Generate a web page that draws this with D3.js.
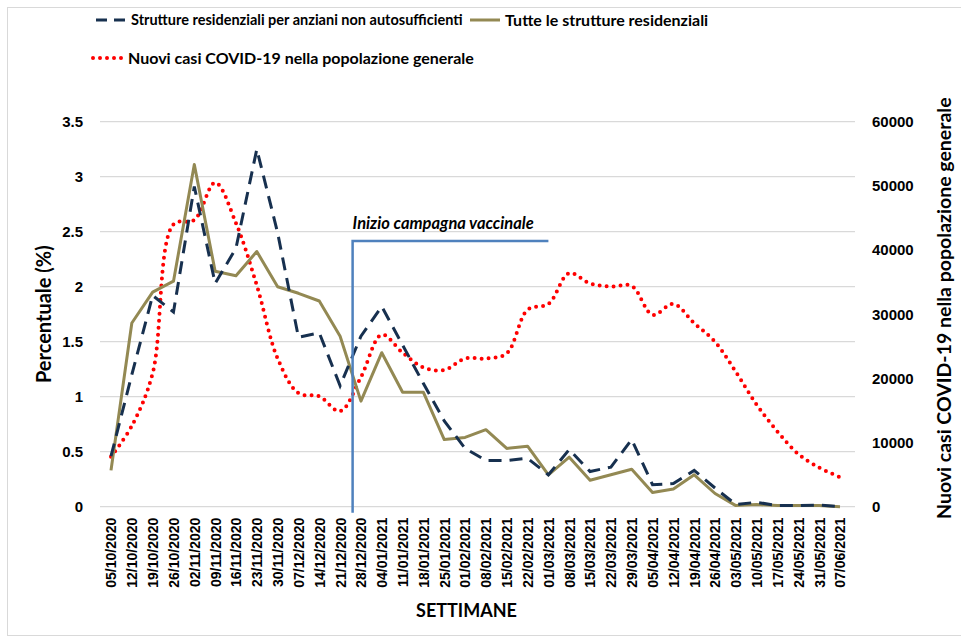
<!DOCTYPE html>
<html>
<head>
<meta charset="utf-8">
<script src="https://cdn.jsdelivr.net/npm/d3@7"></script>
<style>
  body { margin: 0; background: #fff; }
  svg { display: block; font-family: Lato, "Open Sans", sans-serif; }
  .tick text { font-weight: bold; fill: #000; }
</style>
</head>
<body>
<script>
// settimane (asse x)
const settimane = ['05/10/2020', '12/10/2020', '19/10/2020', '26/10/2020', '02/11/2020', '09/11/2020',
  '16/11/2020', '23/11/2020', '30/11/2020', '07/12/2020', '14/12/2020', '21/12/2020', '28/12/2020',
  '04/01/2021', '11/01/2021', '18/01/2021', '25/01/2021', '01/02/2021', '08/02/2021', '15/02/2021',
  '22/02/2021', '01/03/2021', '08/03/2021', '15/03/2021', '22/03/2021', '29/03/2021', '05/04/2021',
  '12/04/2021', '19/04/2021', '26/04/2021', '03/05/2021', '10/05/2021', '17/05/2021', '24/05/2021',
  '31/05/2021', '07/06/2021']

// percentuale - strutture per anziani non autosufficienti
const rsaAnziani = [0.46, 1.2, 1.92, 1.77, 2.91, 2.03, 2.35, 3.25, 2.49, 1.54, 1.58, 1.1, 1.55,
  1.82, 1.47, 1.12, 0.78, 0.53, 0.42, 0.42, 0.44, 0.29, 0.52, 0.32, 0.36, 0.61, 0.2, 0.21,
  0.33, 0.17, 0.02, 0.04, 0.01, 0.01, 0.015, 0.0]

// percentuale - tutte le strutture residenziali
const tutteStrutture = [0.33, 1.67, 1.95, 2.05, 3.11, 2.14, 2.1, 2.32, 2.0, 1.94, 1.87, 1.55, 0.96,
  1.4, 1.04, 1.04, 0.61, 0.63, 0.7, 0.53, 0.55, 0.29, 0.45, 0.24, 0.29, 0.34, 0.13, 0.16,
  0.29, 0.12, 0.01, 0.02, 0.01, 0.01, 0.01, 0.0]

// nuovi casi nella popolazione generale
const nuoviCasi = [7800, 12600, 20800, 44000, 44700, 50500, 44200, 34500, 23100, 17700, 17200,
  14900, 20200, 26800, 24000, 21700, 21300, 23100, 23100, 23900, 30700, 31600, 36400, 34800,
  34300, 34400, 29900, 31600, 28600, 25700, 21000, 15900, 11700, 8200, 6100, 4600]

const ticksSx = [0, 0.5, 1, 1.5, 2, 2.5, 3, 3.5]
const ticksDx = [0, 10000, 20000, 30000, 40000, 50000, 60000]

const W = 961, H = 638
const margin = { top: 121.7, left: 100, right: 106, bottom: 131.3 }
const width = W - margin.left - margin.right
const height = H - margin.top - margin.bottom

const svg = d3.select('body').append('svg')
    .attr('width', W)
    .attr('height', H)

// cornice
svg.append('rect')
    .attr('x', 7.5).attr('y', 7.5)
    .attr('width', W + 10).attr('height', 628)
    .attr('fill', 'none')
    .attr('stroke', '#d9d9d9')

const g = svg.append('g')
    .attr('transform', `translate(${margin.left},${margin.top})`)

const x = d3.scalePoint()
    .domain(settimane)
    .range([11, 740])

const ySx = d3.scaleLinear().domain([0, 3.5]).range([height, 0])
const yDx = d3.scaleLinear().domain([0, 60000]).range([height, 0])

// griglia
g.append('g').selectAll('line')
    .data(ticksSx)
    .enter().append('line')
    .attr('x1', 0).attr('x2', width)
    .attr('y1', d => ySx(d)).attr('y2', d => ySx(d))
    .attr('stroke', '#d9d9d9')
    .attr('stroke-width', 1.3)

// assi
const axSx = g.append('g')
    .call(d3.axisLeft(ySx).tickValues(ticksSx).tickSize(0).tickPadding(17).tickFormat(d3.format('')))
axSx.select('.domain').remove()
axSx.selectAll('text').attr('font-size', 15)

const axDx = g.append('g')
    .attr('transform', `translate(${width},0)`)
    .call(d3.axisRight(yDx).tickValues(ticksDx).tickSize(0).tickPadding(17).tickFormat(d3.format('')))
axDx.select('.domain').remove()
axDx.selectAll('text').attr('font-size', 15)

const axX = g.append('g')
    .attr('transform', `translate(0,${height})`)
    .call(d3.axisBottom(x).tickSize(0).tickPadding(0))
axX.select('.domain').remove()
axX.selectAll('text')
    .attr('font-size', 14)
    .attr('transform', 'rotate(-90)')
    .attr('text-anchor', 'end')
    .attr('dy', '0.35em')
    .attr('x', -11)
    .attr('y', 0)

// linee
const line = (arr, yScale) => d3.line()
    .x((d, i) => x(settimane[i]))
    .y(d => yScale(d))(arr)

g.append('path')
    .attr('d', d3.line().x((d, i) => x(settimane[i])).y(d => yDx(d)).curve(d3.curveCatmullRom)(nuoviCasi))
    .attr('fill', 'none')
    .attr('stroke', '#ff0000')
    .attr('stroke-width', 4)
    .attr('stroke-linecap', 'round')
    .attr('stroke-dasharray', '0 7')

g.append('path')
    .attr('d', line(tutteStrutture, ySx))
    .attr('fill', 'none')
    .attr('stroke', '#938953')
    .attr('stroke-width', 3)
    .attr('stroke-linejoin', 'round')

g.append('path')
    .attr('d', line(rsaAnziani, ySx))
    .attr('fill', 'none')
    .attr('stroke', '#17304f')
    .attr('stroke-width', 3)
    .attr('stroke-dasharray', '13 8')

// inizio campagna vaccinale
const xVacc = x('21/12/2020') + 0.6 * x.step()
const yVacc = ySx(2.415)
g.append('path')
    .attr('d', `M${xVacc},${height + 6}V${yVacc}H${x('01/03/2021')}`)
    .attr('fill', 'none')
    .attr('stroke', '#4f81bd')
    .attr('stroke-width', 2.5)
g.append('text')
    .attr('x', xVacc)
    .attr('y', yVacc - 12)
    .attr('font-size', 16.5)
    .attr('font-weight', 'bold')
    .attr('font-style', 'italic')
    .text('Inizio campagna vaccinale')

// titoli assi
svg.append('text')
    .attr('transform', `translate(51,${margin.top + height / 2}) rotate(-90)`)
    .attr('text-anchor', 'middle')
    .attr('font-size', 20)
    .attr('font-weight', 'bold')
    .text('Percentuale (%)')

svg.append('text')
    .attr('transform', `translate(951,${margin.top + height / 2 - 6}) rotate(-90)`)
    .attr('text-anchor', 'middle')
    .attr('font-size', 19.5)
    .attr('font-weight', 'bold')
    .text('Nuovi casi COVID-19 nella popolazione generale')

svg.append('text')
    .attr('x', margin.left + width / 2 - 11)
    .attr('y', 617)
    .attr('text-anchor', 'middle')
    .attr('font-size', 18)
    .attr('font-weight', 'bold')
    .text('SETTIMANE')

// legenda
const legenda = [
  { nome: 'Strutture residenziali per anziani non autosufficienti', colore: '#17304f', dash: '11 7', cap: 'butt', w: 3, x: 96, y: 20, fs: 14.5 },
  { nome: 'Tutte le strutture residenziali', colore: '#938953', dash: null, cap: 'butt', w: 3, x: 470, y: 20, fs: 16 },
  { nome: 'Nuovi casi COVID-19 nella popolazione generale', colore: '#ff0000', dash: '0 7', cap: 'round', w: 4, x: 93, y: 58, fs: 16 }
]
const leg = svg.append('g').selectAll('g')
    .data(legenda)
    .enter().append('g')
    .attr('transform', d => `translate(${d.x},${d.y})`)
leg.append('line')
    .attr('x1', 0).attr('x2', 30)
    .attr('stroke', d => d.colore)
    .attr('stroke-width', d => d.w)
    .attr('stroke-dasharray', d => d.dash)
    .attr('stroke-linecap', d => d.cap)
leg.append('text')
    .attr('x', 35)
    .attr('dy', '0.35em')
    .attr('font-size', d => d.fs)
    .attr('font-weight', 'bold')
    .text(d => d.nome)
</script>
</body>
</html>
